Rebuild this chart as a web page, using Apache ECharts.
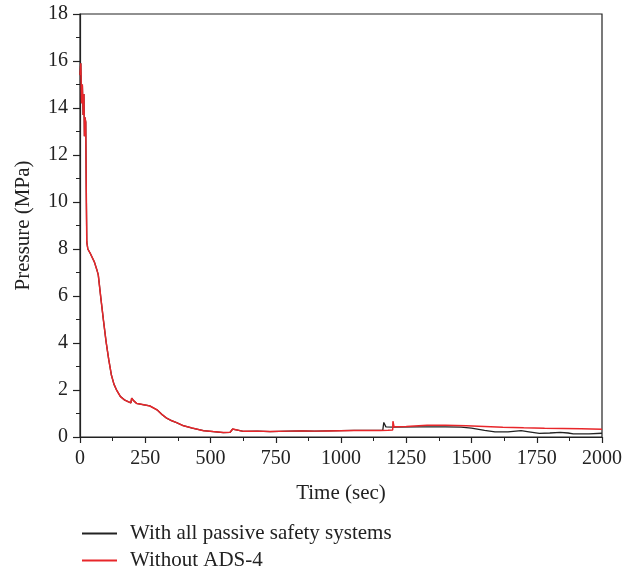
<!DOCTYPE html>
<html>
<head>
<meta charset="utf-8">
<script src="https://cdn.jsdelivr.net/npm/echarts@6/dist/echarts.min.js"></script>
<style>html,body{margin:0;padding:0;background:#fff;}#c{width:636px;height:573px;}</style>
</head>
<body>
<div id="c"></div>
<script>
const seriesNames = ['With all passive safety systems', 'Without ADS-4'];
const xTicks = [0, 250, 500, 750, 1000, 1250, 1500, 1750, 2000];
const yTicks = [0, 2, 4, 6, 8, 10, 12, 14, 16, 18];

// Shared early transient (both cases identical until ~1160 s)
const commonTime = [0, 3, 6, 9, 12, 15, 17, 19, 22, 24, 26, 30, 40, 55, 65, 70, 80, 90, 100, 110, 120, 130, 140, 155, 170, 185, 195, 198, 205, 217, 240, 268, 296, 315, 332, 350, 370, 396, 430, 473, 510, 549, 575, 585, 590, 626, 680, 728, 800, 850, 900, 950, 1000, 1050, 1100, 1150];
const commonPressure = [15.4, 15.9, 14.2, 15.0, 13.7, 14.6, 12.8, 13.6, 13.4, 10.5, 8.3, 8.0, 7.8, 7.45, 7.1, 6.9, 5.9, 4.95, 4.05, 3.3, 2.65, 2.25, 2.0, 1.72, 1.58, 1.5, 1.45, 1.65, 1.55, 1.43, 1.38, 1.32, 1.15, 0.95, 0.8, 0.7, 0.61, 0.48, 0.38, 0.27, 0.23, 0.19, 0.2, 0.34, 0.26, 0.24, 0.25, 0.23, 0.25, 0.26, 0.25, 0.26, 0.27, 0.28, 0.28, 0.28];

const blackTime = commonTime.concat([1160, 1162, 1164, 1168, 1172, 1200, 1300, 1400, 1460, 1500, 1550, 1590, 1640, 1690, 1720, 1760, 1800, 1840, 1870, 1890, 1950, 2000]);
const blackPressure = commonPressure.concat([0.28, 0.3, 0.62, 0.6, 0.43, 0.42, 0.43, 0.43, 0.42, 0.38, 0.28, 0.22, 0.22, 0.27, 0.22, 0.15, 0.17, 0.2, 0.17, 0.13, 0.13, 0.16]);

const redTime = commonTime.concat([1180, 1198, 1199, 1203, 1250, 1330, 1400, 1480, 1550, 1620, 1700, 1780, 1850, 1920, 2000]);
const redPressure = commonPressure.concat([0.29, 0.3, 0.67, 0.44, 0.45, 0.5, 0.5, 0.48, 0.45, 0.42, 0.39, 0.37, 0.36, 0.35, 0.33]);

const zip = (a, b) => a.map((t, i) => [t, b[i]]);
const font = 'Liberation Serif';

const chart = echarts.init(document.getElementById('c'), null, {renderer: 'canvas'});
chart.setOption({
  animation: false,
  backgroundColor: '#fff',
  grid: {left: 80, right: 34, top: 14, bottom: 136, show: true, borderColor: '#222', borderWidth: 1.2, backgroundColor: 'transparent'},
  legend: {
    orient: 'vertical', left: 77, top: 518, height: 120, itemGap: 6,
    itemWidth: 35, itemHeight: 2, icon: 'rect',
    textStyle: {fontFamily: font, fontSize: 21, color: '#222', padding: [0, 0, 0, 8], lineHeight: 21},
    data: seriesNames
  },
  xAxis: {
    type: 'value', min: 0, max: 2000, interval: 250,
    name: 'Time (sec)', nameLocation: 'middle', nameGap: 46,
    nameTextStyle: {fontFamily: font, fontSize: 21, color: '#222'},
    axisLine: {show: true, lineStyle: {color: '#222', width: 1.2}},
    axisTick: {show: true, inside: false, length: 6, lineStyle: {color: '#222', width: 1.2}},
    minorTick: {show: true, splitNumber: 2, length: 4, lineStyle: {color: '#222', width: 1}},
    axisLabel: {fontFamily: font, fontSize: 20, color: '#222', margin: 12,
      formatter: v => xTicks.includes(v) ? String(v) : ''},
    splitLine: {show: false}
  },
  yAxis: {
    type: 'value', min: 0, max: 18, interval: 2,
    name: 'Pressure (MPa)', nameLocation: 'middle', nameGap: 46, nameRotate: 90,
    nameTextStyle: {fontFamily: font, fontSize: 21, color: '#222'},
    axisLine: {show: true, lineStyle: {color: '#222', width: 1.2}},
    axisTick: {show: true, inside: false, length: 7, lineStyle: {color: '#222', width: 1.2}},
    minorTick: {show: true, splitNumber: 2, length: 4, lineStyle: {color: '#222', width: 1}},
    axisLabel: {fontFamily: font, fontSize: 20, color: '#222', margin: 12,
      formatter: v => yTicks.includes(v) ? String(v) : ''},
    splitLine: {show: false}
  },
  series: [
    {name: seriesNames[0], type: 'line', data: zip(blackTime, blackPressure), showSymbol: false, symbol: 'none',
      lineStyle: {color: '#222', width: 1.3}, itemStyle: {color: '#222'}, z: 2},
    {name: seriesNames[1], type: 'line', data: zip(redTime, redPressure), showSymbol: false, symbol: 'none',
      lineStyle: {color: '#e8262a', width: 1.5}, itemStyle: {color: '#e8262a'}, z: 3}
  ]
});
</script>
</body>
</html>
